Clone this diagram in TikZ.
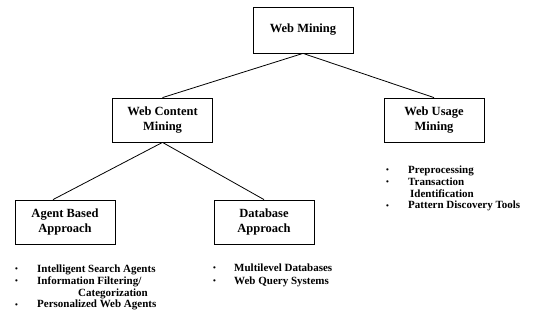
\documentclass[tikz,border=0pt]{standalone}
\usepackage{fontspec}
\setmainfont{Liberation Serif}
\usetikzlibrary{positioning}
\newcommand{\dotitem}{{\fontsize{8}{8}\selectfont\raisebox{0.8pt}{\textbullet}}}

\begin{document}
\begin{tikzpicture}[x=1pt, y=-1pt,
	box/.style={shape=rectangle, draw, line width=0.8pt, minimum width=100pt,
		minimum height=44pt, align=center, font=\bfseries\fontsize{12.5}{14.5}\selectfont},
	items/.style={anchor=north west, inner sep=0pt, align=left,
		font=\bfseries\fontsize{11}{11.8}\selectfont},
	link/.style={line width=0.8pt}]
	\useasboundingbox (0,0) rectangle (533,320);
	\node[box, minimum height=46pt] (web) at (303,30) {Web Mining};
	\node[box] (content) at (162.5,120) {Web Content\\Mining};
	\node[box] (usage) at (434,120) {Web Usage\\Mining};
	\node[box] (agent) at (65,222) {Agent Based\\Approach};
	\node[box] (database) at (264,222) {Database\\Approach};
	% bullet lists
	\node[items] (agentlist) at (15,264) {\begin{tabular}{@{}p{22pt}@{}l@{}}
		\dotitem & Intelligent Search Agents\\
		\dotitem & Information Filtering/\\
		& \hspace{41pt}Categorization\\
		\dotitem & Personalized Web Agents
	\end{tabular}};
	\node[items] (dblist) at (213,263) {\begin{tabular}{@{}p{21pt}@{}l@{}}
		\dotitem & Multilevel Databases\\[1pt]
		\dotitem & Web Query Systems
	\end{tabular}};
	\node[items] (usagelist) at (386,165) {\begin{tabular}{@{}p{22pt}@{}l@{}}
		\dotitem & Preprocessing\\
		\dotitem & Transaction\\
		& \hspace{2pt}Identification\\
		\dotitem & Pattern Discovery Tools
	\end{tabular}};
	% tree lines
	\draw[link] (web.south) -- (content.north);
	\draw[link] (web.south) -- (usage.north);
	\draw[link] (content.south) -- ([xshift=-12pt]agent.north);
	\draw[link] (content.south) -- (database.north);
\end{tikzpicture}
\end{document}
